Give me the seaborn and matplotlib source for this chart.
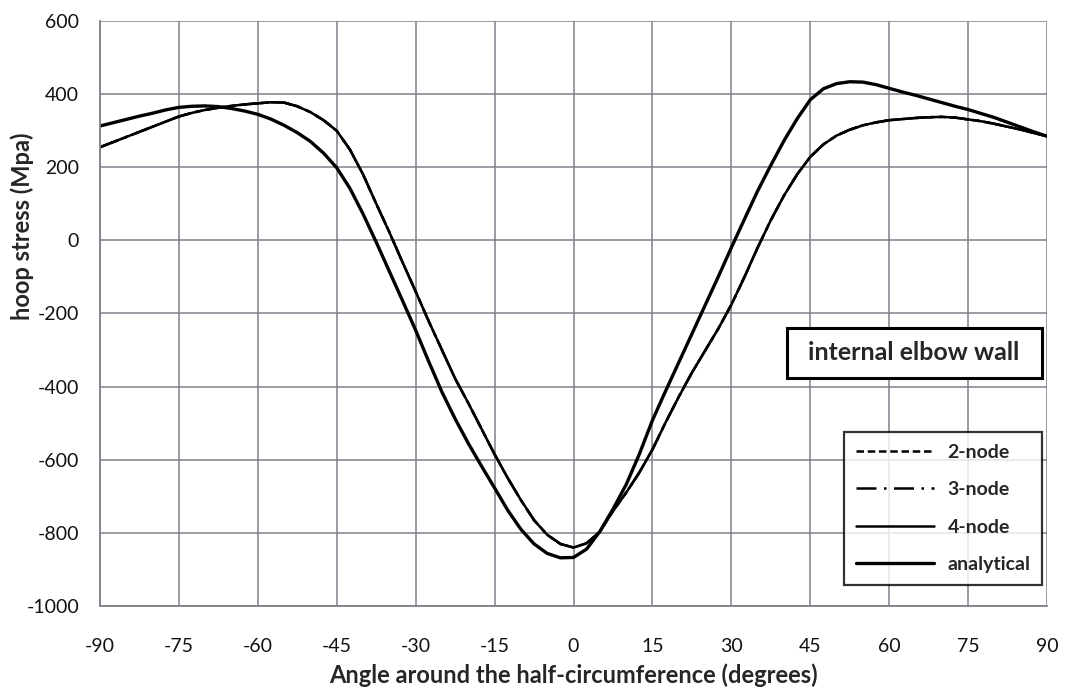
import matplotlib
matplotlib.use("Agg")
import numpy as np
import pandas as pd
import matplotlib.pyplot as plt
from matplotlib.patches import Rectangle
import seaborn as sns

# angle around the half-circumference (degrees), every 2.5 deg
angle = [-90, -87.5, -85, -82.5, -80, -77.5, -75, -72.5, -70, -67.5, -65, -62.5,
         -60, -57.5, -55, -52.5, -50, -47.5, -45, -42.5, -40, -37.5, -35, -32.5,
         -30, -27.5, -25, -22.5, -20, -17.5, -15, -12.5, -10, -7.5, -5, -2.5,
         0, 2.5, 5, 7.5, 10, 12.5, 15, 17.5, 20, 22.5, 25, 27.5,
         30, 32.5, 35, 37.5, 40, 42.5, 45, 47.5, 50, 52.5, 55, 57.5,
         60, 62.5, 65, 67.5, 70, 72.5, 75, 77.5, 80, 82.5, 85, 87.5, 90]

# hoop stress (MPa)
analytical = [312, 321, 330, 339, 347, 356, 363, 366, 367, 365, 360, 353,
              344, 331, 314, 294, 270, 238, 198, 142, 72, -5, -85, -165,
              -246, -332, -415, -488, -555, -617, -677, -738, -790, -830, -856, -868,
              -867, -844, -796, -735, -668, -585, -492, -412, -334, -256, -178, -100,
              -20, 58, 135, 205, 272, 332, 384, 414, 428, 433, 432, 425,
              415, 405, 396, 386, 376, 366, 357, 346, 335, 322, 309, 296, 284]

node2 = [254, 268, 282, 296, 310, 324, 338, 348, 356, 362, 367, 371,
         374, 377, 376, 366, 350, 328, 299, 248, 180, 100, 22, -60,
         -140, -222, -300, -378, -445, -515, -585, -650, -710, -765, -805, -830,
         -840, -828, -797, -740, -690, -635, -572, -498, -428, -362, -302, -242,
         -176, -100, -20, 55, 122, 180, 228, 262, 286, 302, 314, 322,
         328, 331, 334, 336, 337, 335, 330, 325, 318, 310, 302, 293, 284]
node3 = [254, 268, 282, 296, 310, 324, 338, 348, 356, 362, 367, 371,
         374, 377, 376, 366, 350, 328, 299, 248, 180, 100, 22, -60,
         -140, -222, -300, -378, -445, -515, -585, -650, -710, -765, -805, -830,
         -840, -828, -797, -740, -690, -635, -572, -498, -428, -362, -302, -242,
         -176, -100, -20, 55, 122, 180, 228, 262, 286, 302, 314, 322,
         328, 331, 334, 336, 337, 335, 330, 325, 318, 310, 302, 293, 284]
node4 = [254, 268, 282, 296, 310, 324, 338, 348, 356, 362, 367, 371,
         374, 377, 376, 366, 350, 328, 299, 248, 180, 100, 22, -60,
         -140, -222, -300, -378, -445, -515, -585, -650, -710, -765, -805, -830,
         -840, -828, -797, -740, -690, -635, -572, -498, -428, -362, -302, -242,
         -176, -100, -20, 55, 122, 180, 228, 262, 286, 302, 314, 322,
         328, 331, 334, 336, 337, 335, 330, 325, 318, 310, 302, 293, 284]

xticks = list(range(-90, 91, 15))
yticks = list(range(-1000, 601, 200))

sns.set_style("white")
plt.rcParams['font.family'] = ['Lato', 'DejaVu Sans']
plt.rcParams['axes.unicode_minus'] = False

fig = plt.figure(figsize=(10.74, 6.88), dpi=100)
ax = fig.add_axes([0.093, 0.119, 0.882, 0.851])

sns.lineplot(x=angle, y=node2, ax=ax, color='black', lw=1.8, linestyle=(0, (3, 1.5)), label='2-node')
sns.lineplot(x=angle, y=node3, ax=ax, color='black', lw=1.8, linestyle=(0, (8, 3, 1, 3)), label='3-node')
sns.lineplot(x=angle, y=node4, ax=ax, color='black', lw=1.8, label='4-node')
sns.lineplot(x=angle, y=analytical, ax=ax, color='black', lw=2.4, label='analytical')

ax.set_xlim(-90, 90)
ax.set_ylim(-1000, 600)
ax.set_xticks(xticks)
ax.set_yticks(yticks)
ax.grid(True, color='#80808a', lw=1.1)
ax.set_axisbelow(True)
for side in ['top', 'right']:
    ax.spines[side].set_visible(False)
for side in ['left', 'bottom']:
    ax.spines[side].set_color('#80808a')
    ax.spines[side].set_linewidth(1.3)
ax.tick_params(axis='both', which='both', direction='out', length=5, width=1,
               color='#80808a', labelsize=14, labelcolor='#111111')
ax.tick_params(axis='x', pad=18)
ax.tick_params(axis='y', pad=10)

ax.set_xlabel("Angle around the half-circumference (degrees)", fontsize=17,
              fontweight='bold', labelpad=6)
ax.set_ylabel("hoop stress (Mpa)", fontsize=17, fontweight='bold')
ax.yaxis.label.set_rotation_mode('default')
ax.yaxis.label.set_verticalalignment('center')
ax.yaxis.label.set_horizontalalignment('center')
ax.yaxis.set_label_coords(-0.0824, 0.648)

# text box
ax.add_patch(Rectangle((0.7255, 0.3897), 0.2692, 0.0855, transform=ax.transAxes,
                       facecolor='white', edgecolor='black', lw=2.2, zorder=5))
ax.text(0.859, 0.4325, "internal elbow wall", transform=ax.transAxes,
        fontsize=18, fontweight='bold', ha='center', va='center', zorder=6)

leg = ax.legend(loc='upper right', bbox_to_anchor=(0.9947, 0.2974), frameon=True,
                fancybox=False, handlelength=4.0, fontsize=14, borderpad=0.6,
                labelspacing=1.05, handletextpad=0.7, borderaxespad=0)
leg.get_frame().set_edgecolor('black')
leg.get_frame().set_linewidth(1.6)
for t in leg.get_texts():
    t.set_fontweight('bold')

fig.savefig("out.png", dpi=100)
